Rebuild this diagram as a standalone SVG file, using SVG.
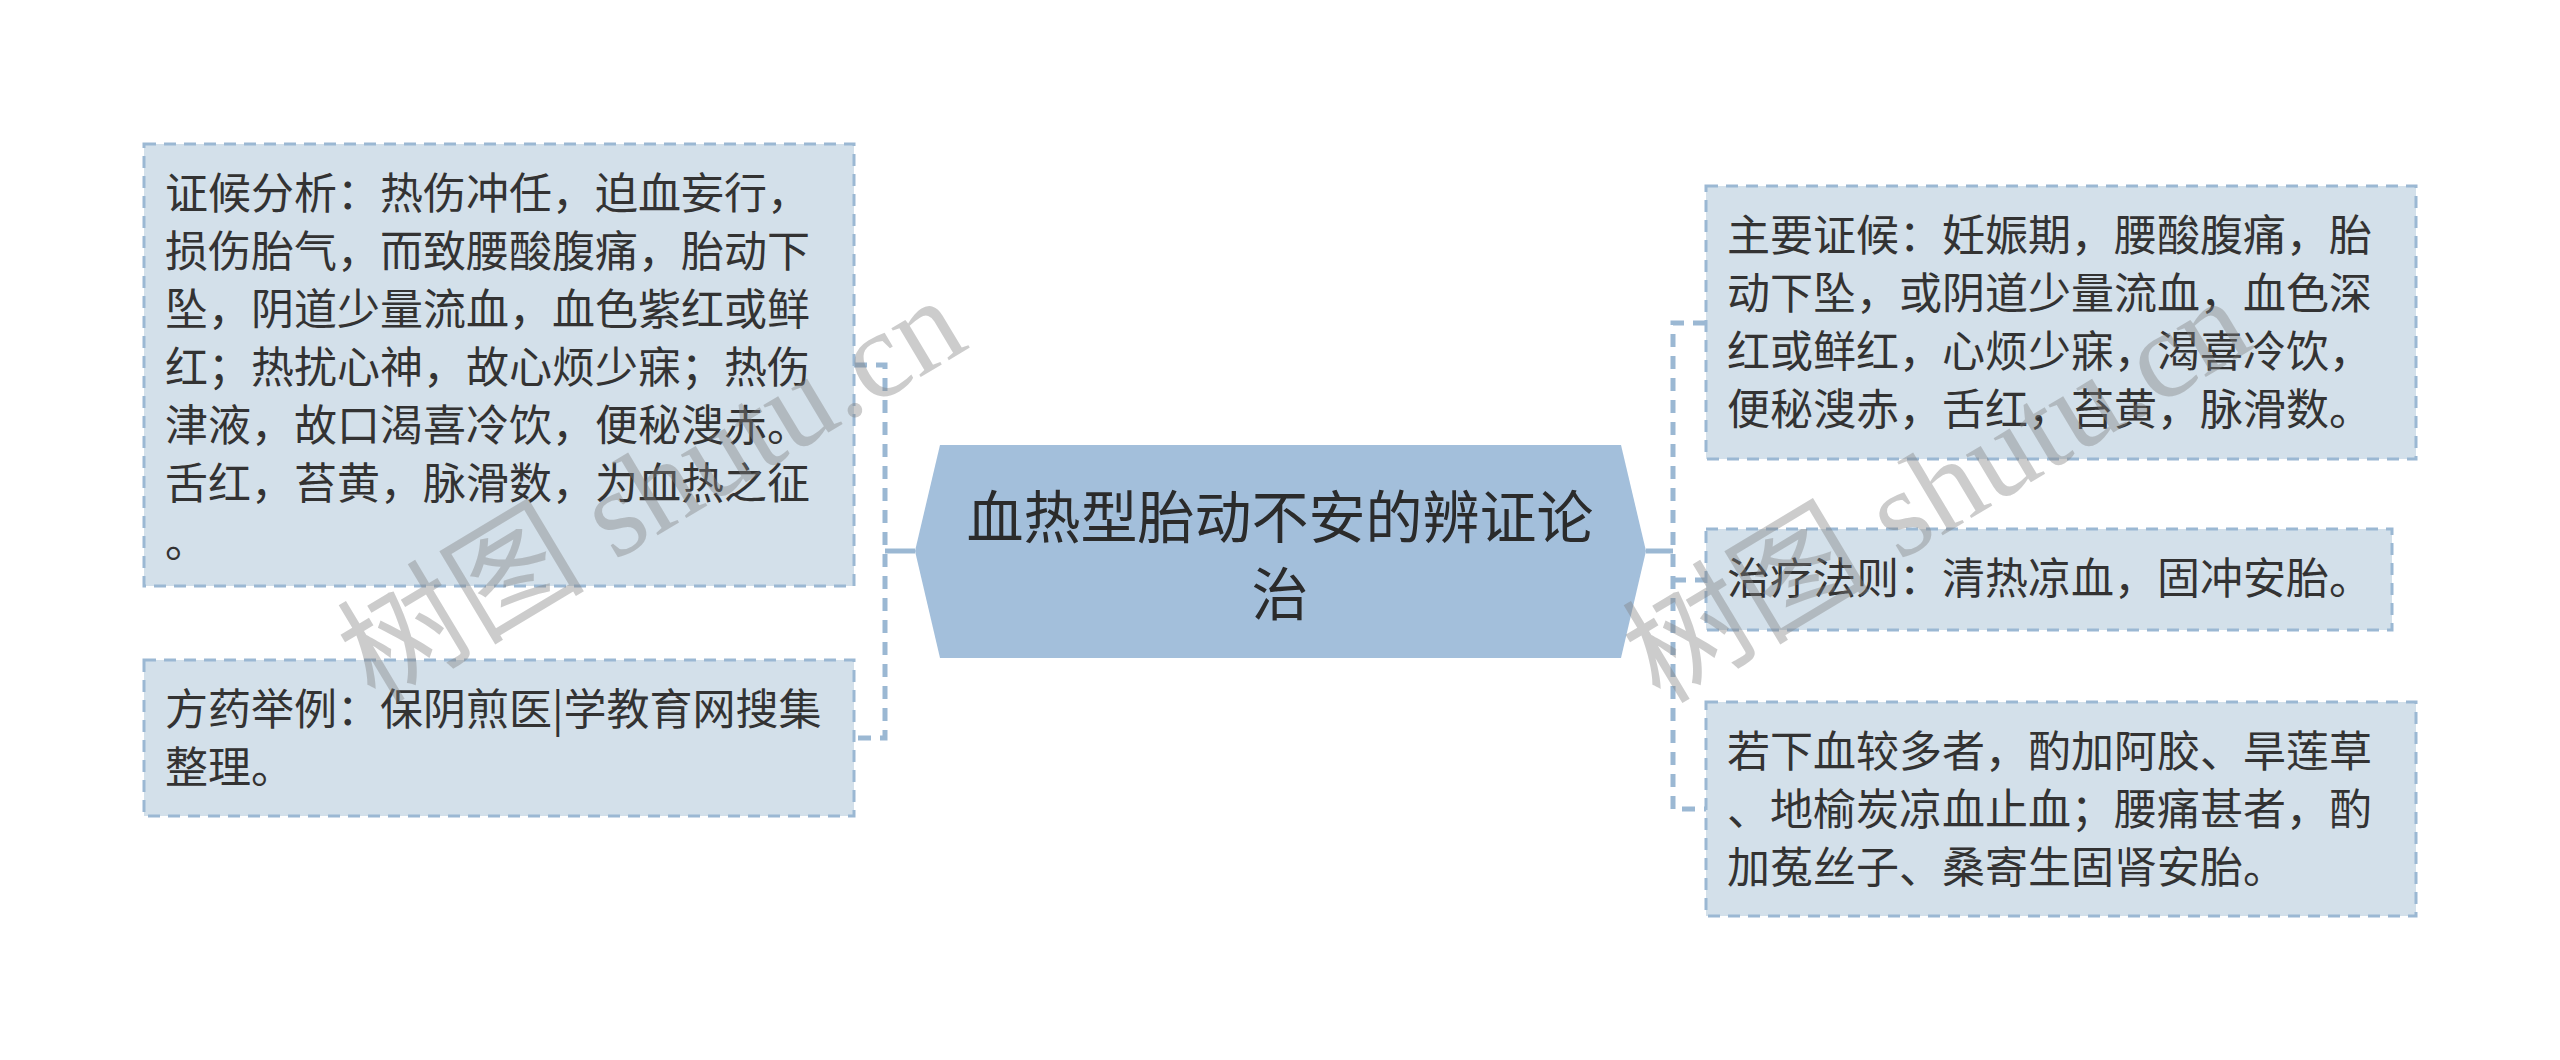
<svg xmlns="http://www.w3.org/2000/svg" width="2560" height="1060" viewBox="0 0 2560 1060">
<style>
.box{fill:#d3e0ea;stroke:#9bb8d3;stroke-width:3;stroke-dasharray:12 8;}
.t{font-family:"Noto Sans CJK SC","Noto Sans",sans-serif;font-size:43px;fill:#333333;}
.ct{font-family:"Noto Sans CJK SC","Noto Sans",sans-serif;font-size:57px;fill:#2b2b2b;text-anchor:middle;}
.dash{fill:none;stroke:#9bb8d3;stroke-width:5;stroke-dasharray:13 9;}
.solid{fill:none;stroke:#9bb8d3;stroke-width:5;}
.wm{font-size:124px;fill:#808080;fill-opacity:0.4;}
</style>
<rect width="2560" height="1060" fill="#ffffff"/>
<g id="connectors">
<path class="solid" d="M915,551 H885"/>
<path class="dash" d="M854,365 H885 V738 H854"/>
<path class="solid" d="M1646,551 H1673"/>
<path class="dash" d="M1706,323 H1673 V809 H1706"/>
<path class="dash" d="M1673,580 H1706"/>
</g>
<g id="center">
<polygon points="915,551 940,445 1621,445 1646,551 1621,658 940,658" fill="#a3bfdb"/>
<text class="ct" x="1280" y="538">血热型胎动不安的辨证论</text>
<text class="ct" x="1280" y="615">治</text>
</g>
<g id="left1">
<rect class="box" x="144" y="144" width="710" height="442"/>
<text class="t" x="165" y="209">证候分析：热伤冲任，迫血妄行，</text>
<text class="t" x="165" y="267">损伤胎气，而致腰酸腹痛，胎动下</text>
<text class="t" x="165" y="325">坠，阴道少量流血，血色紫红或鲜</text>
<text class="t" x="165" y="383">红；热扰心神，故心烦少寐；热伤</text>
<text class="t" x="165" y="441">津液，故口渴喜冷饮，便秘溲赤。</text>
<text class="t" x="165" y="499">舌红，苔黄，脉滑数，为血热之征</text>
<text class="t" x="165" y="557">。</text>
</g>
<g id="left2">
<rect class="box" x="144" y="660" width="710" height="156"/>
<text class="t" x="165" y="725">方药举例：保阴煎医|学教育网搜集</text>
<text class="t" x="165" y="783">整理。</text>
</g>
<g id="right1">
<rect class="box" x="1706" y="186" width="710" height="273"/>
<text class="t" x="1727" y="251">主要证候：妊娠期，腰酸腹痛，胎</text>
<text class="t" x="1727" y="309">动下坠，或阴道少量流血，血色深</text>
<text class="t" x="1727" y="367">红或鲜红，心烦少寐，渴喜冷饮，</text>
<text class="t" x="1727" y="425">便秘溲赤，舌红，苔黄，脉滑数。</text>
</g>
<g id="right2">
<rect class="box" x="1706" y="529" width="686" height="101"/>
<text class="t" x="1727" y="594">治疗法则：清热凉血，固冲安胎。</text>
</g>
<g id="right3">
<rect class="box" x="1706" y="702" width="710" height="214"/>
<text class="t" x="1727" y="767">若下血较多者，酌加阿胶、旱莲草</text>
<text class="t" x="1727" y="825">、地榆炭凉血止血；腰痛甚者，酌</text>
<text class="t" x="1727" y="883">加菟丝子、桑寄生固肾安胎。</text>
</g>
<g id="watermark">
<text class="wm" transform="translate(375,705) rotate(-31)"><tspan font-family="Noto Sans CJK SC, sans-serif">树图</tspan><tspan font-family="Liberation Serif, serif"> shutu.cn</tspan></text>
<text class="wm" transform="translate(1660,705) rotate(-31)"><tspan font-family="Noto Sans CJK SC, sans-serif">树图</tspan><tspan font-family="Liberation Serif, serif"> shutu.cn</tspan></text>
</g>
</svg>
